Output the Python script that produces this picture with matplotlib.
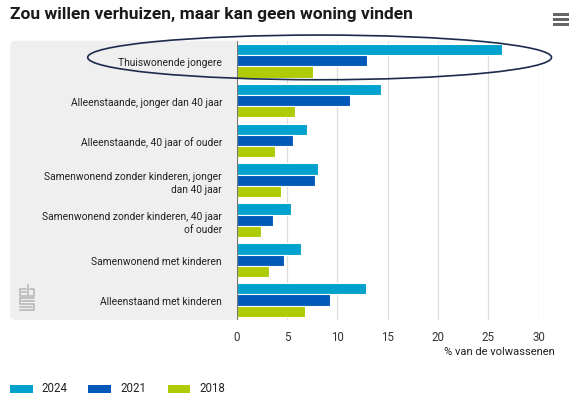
import matplotlib
matplotlib.use("Agg")
from matplotlib import pyplot as plt
from matplotlib.patches import FancyBboxPatch, Ellipse, Rectangle
from matplotlib.lines import Line2D
import numpy as np

plt.rcParams['font.family'] = ['Liberation Sans Narrow', 'Roboto', 'DejaVu Sans']

title = "Zou willen verhuizen, maar kan geen woning vinden"
categories = ["Thuiswonende jongere",
              "Alleenstaande, jonger dan 40 jaar",
              "Alleenstaande, 40 jaar of ouder",
              "Samenwonend zonder kinderen, jonger\ndan 40 jaar",
              "Samenwonend zonder kinderen, 40 jaar\nof ouder",
              "Samenwonend met kinderen",
              "Alleenstaand met kinderen"]
years = ["2024", "2021", "2018"]
v2024 = [26.4, 14.3, 7.0, 8.1, 5.4, 6.4, 12.9]
v2021 = [13.0, 11.3, 5.6, 7.8, 3.6, 4.7, 9.3]
v2018 = [7.6, 5.8, 3.8, 4.4, 2.4, 3.2, 6.8]
xticks = [0, 5, 10, 15, 20, 25, 30]
xlabel = "% van de volwassenen"

colors = ["#00a1cd", "#0058b8", "#afcb05"]

W, H = 586, 402
fig = plt.figure(figsize=(W/100, H/100), dpi=100)

def fx(px): return px / W
def fy(py): return 1 - py / H

# grey band behind the category labels
band = FancyBboxPatch((fx(10), fy(321)), fx(245) - fx(10), fy(41.7) - fy(321),
                      boxstyle="round,pad=0,rounding_size=0.012",
                      transform=fig.transFigure, facecolor="#efefef", edgecolor="none", zorder=0)
fig.patches.append(band)

ax = fig.add_axes([fx(236.7), fy(321), fx(538.5) - fx(236.7), fy(41.7) - fy(321)])
ax.set_zorder(1)

y = np.arange(len(categories))
h = 0.283
for i, (vals, c) in enumerate(zip([v2024, v2021, v2018], colors)):
    ax.barh(y + (i - 1) * h, vals, height=h, color=c, edgecolor="white", linewidth=0.8, zorder=3)

ax.set_xlim(0, 30)
ax.set_ylim(len(categories) - 0.5, -0.5)
ax.set_xticks(xticks)
ax.set_xticklabels([str(t) for t in xticks], fontsize=8.3, color="#333333")
ax.set_yticks(y)
ax.set_yticklabels(categories, fontsize=7.4, color="#222222", linespacing=1.3)
ax.tick_params(axis="x", length=0, pad=7)
ax.tick_params(axis="y", length=0, pad=10.5)
for s in ax.spines.values():
    s.set_visible(False)
ax.grid(axis="x", color="#dddddd", linewidth=0.9, zorder=0)
ax.axvline(0, color="#666666", linewidth=1.3, zorder=4)

ax.text(1.055, -0.11, xlabel, transform=ax.transAxes, ha="right", va="center",
        fontsize=8, color="#222222")

fig.text(fx(10), fy(15), title, ha="left", va="center", fontsize=12.5, fontweight="bold", color="#1a1a1a")

# highlight ellipse around first group
ell = Ellipse((fx(319.6), fy(58.4)), fx(463.8), 44.7 / H, transform=fig.transFigure,
              facecolor="none", edgecolor="#1c2b4c", linewidth=1.2, zorder=10)
fig.patches.append(ell)

# menu icon
for yy in [15.5, 20.5, 25.5]:
    fig.patches.append(Rectangle((fx(552.7), fy(yy + 1.3)), fx(16), 2.6 / H,
                                 transform=fig.transFigure, facecolor="#666666", edgecolor="none"))

# legend
lx = [(10.4, 41.8), (88.4, 120.5), (167.5, 199)]
for (bx, tx), c, yr in zip(lx, colors, years):
    fig.patches.append(Rectangle((fx(bx), fy(394.3)), fx(22.5), 8.6 / H,
                                 transform=fig.transFigure, facecolor=c, edgecolor="none"))
    fig.text(fx(tx), fy(388.3), yr, ha="left", va="center", fontsize=8.3, color="#222222")

# rough cbs logo
lg = "#b5b5b5"
segs = [
    [(26, 290), (20, 290), (20, 297), (26, 297)],
    [(22, 293), (26, 293)],
    [(28, 286), (28, 297), (34, 297), (34, 290), (30, 290)],
    [(34, 299), (20, 299), (20, 305), (34, 305), (34, 311), (20, 311)],
    [(22, 302), (34, 302)],
    [(20, 308), (32, 308)],
]
for s in segs:
    xs = [fx(p[0]) for p in s]
    ys = [fy(p[1]) for p in s]
    fig.lines.append(Line2D(xs, ys, transform=fig.transFigure, color=lg, linewidth=1.1))

fig.savefig("out.png", dpi=100)
